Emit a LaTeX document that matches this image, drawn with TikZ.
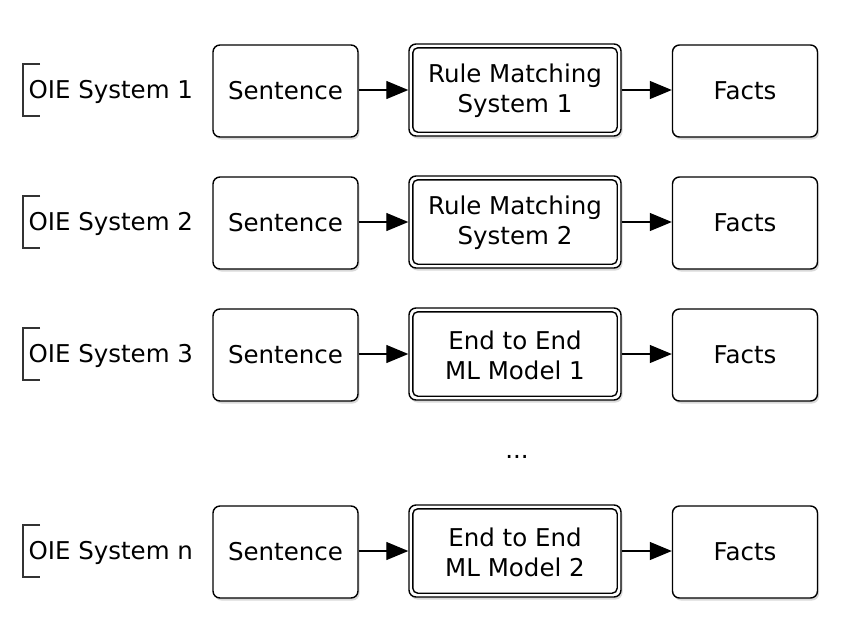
\documentclass[tikz,border=0pt]{standalone}
\usepackage{fontspec}
\setmainfont{DejaVu Sans}
\usetikzlibrary{arrows.meta,shadows,positioning}
\begin{document}
\begin{tikzpicture}[x=1pt,y=-1pt,
  lbl/.style={font=\fontsize{24.5}{29}\selectfont},
  boxsh/.style={drop shadow={shadow xshift=1.5pt, shadow yshift=-2.5pt, opacity=0.15, fill=black}},
  plain/.style={draw=black, line width=1.4pt, rounded corners=7pt, fill=white,
    minimum width=145pt, minimum height=92pt, align=center, font=\fontsize{24.5}{29}\selectfont, boxsh},
  outer/.style={draw=black, line width=1.4pt, rounded corners=7pt, fill=white,
    minimum width=212pt, minimum height=92pt, boxsh},
  inner/.style={line width=1.4pt, rounded corners=5pt},
  conn/.style={line width=1.3pt, -{Triangle[length=22pt,width=18pt]}},
  brk/.style={line width=1.4pt, draw=black!80}
]
\useasboundingbox (0,0) rectangle (860,633);
\foreach \r/\y/\a/\b in {1/90/Rule Matching/System 1, 2/222/Rule Matching/System 2, 3/354/End to End/ML Model 1, 4/551/End to End/ML Model 2}{
  \node[plain] (s\r) at (285.5,\y+1) {Sentence};
  \node[outer] (m\r) at (515,\y) {};
  \draw[inner] ([xshift=4.5pt,yshift=4.5pt]m\r.south west) rectangle ([xshift=-4.5pt,yshift=-4.5pt]m\r.north east);
  \node[align=center, font=\fontsize{24.5}{30}\selectfont] (mt\r) at ([yshift=-1pt]m\r.center) {\a\\\b};
  \node[plain] (f\r) at (745,\y+1) {Facts};
  \draw[conn] (s\r.east |- m\r) -- (m\r);
  \draw[conn] (m\r) -- (f\r.west |- m\r);
  \coordinate (bt\r) at (40,\y-26);
  \coordinate (bb\r) at (40,\y+26);
  \draw[brk] (bt\r) -- ++(-17,0) -- ++(0,52) -- (bb\r);
}
\node[lbl, anchor=west] (o1) at (25,92) {OIE System 1};
\node[lbl, anchor=west] (o2) at (25,224) {OIE System 2};
\node[lbl, anchor=west] (o3) at (25,356) {OIE System 3};
\node[lbl, anchor=west] (o4) at (25,553) {OIE System n};
\node[lbl] (dots) at (517,457) {...};
\end{tikzpicture}
\end{document}
